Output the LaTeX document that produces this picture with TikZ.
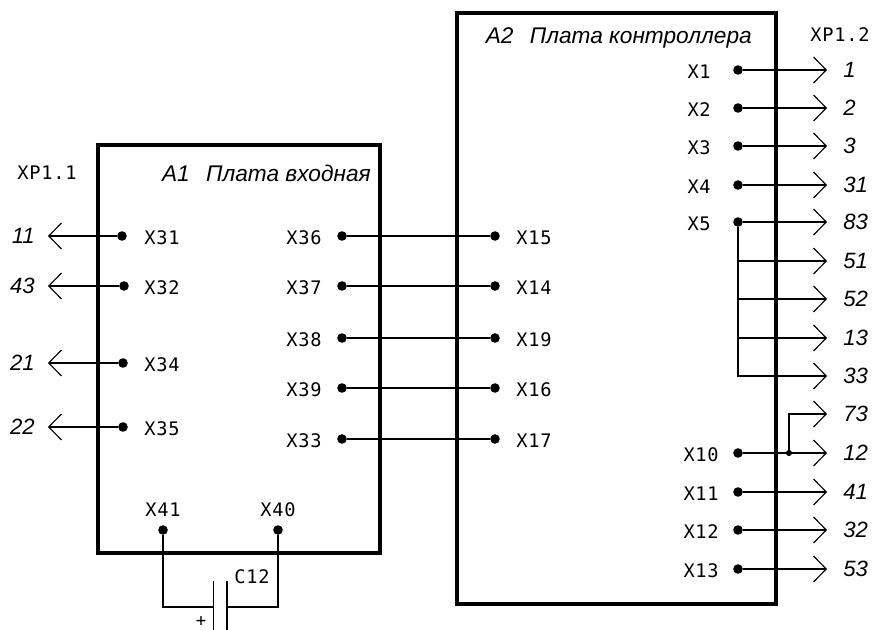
\documentclass[tikz,border=0pt]{standalone}
\usepackage{fontspec}
\setmainfont{Liberation Sans}
\newfontfamily\pinfont[LetterSpace=4]{DejaVu Sans Mono}
\usetikzlibrary{arrows.meta}
\tikzset{
  x=0.75pt,y=-0.75pt,
  board/.style={draw=black,line width=3pt,line join=miter},
  wire/.style={draw=black,line width=0.85pt},
  chev/.style={wire,-{Straight Barb[length=9.5pt,width=19.5pt,line width=0.85pt]}},
  pin/.style={circle,fill=black,draw=none,minimum size=7.2pt,inner sep=0pt},
  junct/.style={circle,fill=black,draw=none,minimum size=4.6pt,inner sep=0pt},
  pinlabel/.style={font=\pinfont\fontsize{14pt}{16pt}\selectfont,inner sep=0pt,anchor=center},
  ital/.style={font=\itshape\fontsize{16.6pt}{18pt}\selectfont,inner sep=0pt},
  title/.style={font=\itshape\fontsize{17pt}{19pt}\selectfont,inner sep=0pt},
}
\begin{document}
\begin{tikzpicture}
\useasboundingbox (0,0) rectangle (872,630);
% boards
\draw[board] (98,145) rectangle (380,553);
\draw[board] (457,13) rectangle (776,604);
\node[title,anchor=east] (a1t) at (371,173) {A1\ \ \,Плата входная};
\node[title,anchor=east] (a2t) at (752,38) {A2\ \ \,Плата контроллера};
\node[pinlabel] (xp11) at (47,173) {XP1.1};
\node[pinlabel] (xp12) at (840,35) {XP1.2};
% A1 outputs
\foreach \name/\xx/\yy/\out in {X31/122/236/11,X32/124/286/43,X34/123/363/21,X35/123/427/22}{
  \node[pin] (\name) at (\xx,\yy) {};
  \node[pinlabel,anchor=center] (l\name) at (162,\yy+2) {\name};
  \coordinate (t\name) at (48,\yy);
  \node[ital,anchor=east] (o\name) at (35,\yy) {\out};
  \draw[chev] (\name) -- (t\name);
}
% A1 to A2
\foreach \a/\b/\yy in {X36/X15/236,X37/X14/286,X38/X19/338,X39/X16/388,X33/X17/439}{
  \node[pin] (\a) at (342,\yy) {};
  \node[pin] (\b) at (495,\yy) {};
  \node[pinlabel] (l\a) at (304,\yy+2) {\a};
  \node[pinlabel] (l\b) at (534,\yy+2) {\b};
  \draw[wire] (\a) -- (\b);
}
% A2 outputs
\foreach \name/\yy/\out/\lx in {X1/70/1/711,X2/108/2/711,X3/146/3/711,X4/185/31/711,X5/222/83/711,X10/453/12/719,X11/492/41/719,X12/530/32/719,X13/569/53/719}{
  \node[pin] (\name) at (738,\yy) {};
  \node[pinlabel,anchor=east] (l\name) at (\lx,\yy+2) {\name};
  \coordinate (t\name) at (827,\yy);
  \node[ital,anchor=west] (o\name) at (843,\yy) {\out};
  \draw[chev] (\name) -- (t\name);
}
% X5 branches
\foreach \yy/\out in {261/51,299/52,338/13,376/33}{
  \coordinate (b\out) at (827,\yy);
  \node[ital,anchor=west] (o\out) at (843,\yy) {\out};
  \draw[chev] (X5) |- (b\out);
}
% X10 branch
\node[junct] (j) at (789,453) {};
\coordinate (b73) at (827,414);
\node[ital,anchor=west] (o73) at (843,414) {73};
\draw[chev] (j) |- (b73);
% capacitor
\node[pin] (X41) at (163,530) {};
\node[pin] (X40) at (278,530) {};
\node[pinlabel] (lX41) at (163,510) {X41};
\node[pinlabel] (lX40) at (278,510) {X40};
\coordinate (capL) at (213.5,607);
\coordinate (capR) at (227,607);
\draw[wire] (X41) |- (capL);
\draw[wire] (X40) |- (capR);
\draw[wire] (213.5,581) -- (213.5,630);
\draw[wire] (227,581) -- (227,630);
\node[pinlabel] (c12) at (252,577) {C12};
\node[font=\pinfont\fontsize{13pt}{14pt}\selectfont,inner sep=0pt] (plus) at (201,622) {+};
\end{tikzpicture}
\end{document}
